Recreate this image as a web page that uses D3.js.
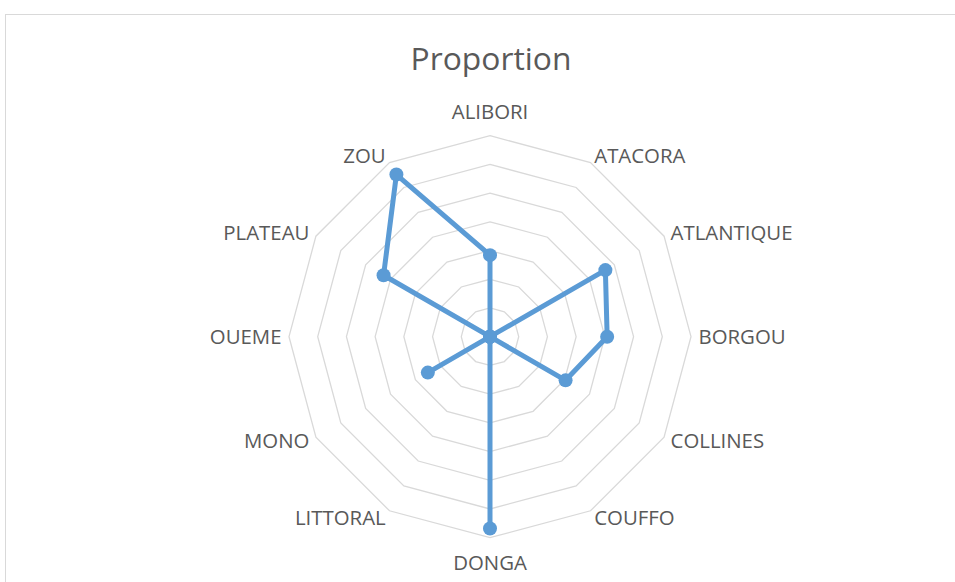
<!DOCTYPE html>
<html>
<head>
<meta charset="utf-8">
<script src="https://cdn.jsdelivr.net/npm/d3@7"></script>
<style>
    html, body { margin: 0; padding: 0; background: #fff; }
    svg { display: block; font-family: "Open Sans", sans-serif; }
</style>
</head>
<body>
<svg id="chart" width="955" height="582"></svg>
<script>
// Departments (clockwise from the top) and their proportions.
const categories = ['ALIBORI', 'ATACORA', 'ATLANTIQUE', 'BORGOU', 'COLLINES', 'COUFFO',
    'DONGA', 'LITTORAL', 'MONO', 'OUEME', 'PLATEAU', 'ZOU'];
const proportions = [0.142, 0, 0.232, 0.204, 0.152, 0, 0.334, 0, 0.125, 0, 0.214, 0.326];
// Gridline rings (the value axis has no visible labels).
const ringTicks = [0.05, 0.10, 0.15, 0.20, 0.25, 0.30, 0.35];
const chartTitle = 'Proportion';

const svg = d3.select('#chart');
const cx = 490, cy = 336.7, R = 201;

// Chart area border (runs off the right and bottom edges).
svg.append('rect')
    .attr('x', 5.5).attr('y', 14.5)
    .attr('width', 1000).attr('height', 1000)
    .attr('fill', 'none')
    .attr('stroke', '#d9d9d9')
    .attr('stroke-width', 1);

svg.append('text')
    .attr('x', 491).attr('y', 70)
    .attr('text-anchor', 'middle')
    .attr('font-size', 31.8)
    .attr('fill', '#595959')
    .text(chartTitle);

const r = d3.scaleLinear().domain([0, d3.max(ringTicks)]).range([0, R]);
const angle = d3.scalePoint().domain(categories).range([0, 2 * Math.PI - 2 * Math.PI / categories.length]);

const g = svg.append('g').attr('transform', `translate(${cx},${cy})`);

// Polygon gridlines.
const ringLine = d3.lineRadial()
    .angle(d => angle(d))
    .curve(d3.curveLinearClosed);
g.selectAll('path.ring')
    .data(ringTicks)
    .join('path')
    .attr('class', 'ring')
    .attr('d', t => ringLine.radius(() => r(t))(categories))
    .attr('fill', 'none')
    .attr('stroke', '#d9d9d9')
    .attr('stroke-width', 1.3);

// Category labels.
g.selectAll('text.cat')
    .data(categories)
    .join('text')
    .attr('class', 'cat')
    .each(function (c) {
        const a = angle(c);
        const s = Math.sin(a), co = Math.cos(a);
        const vertical = Math.abs(s) < 0.01;
        const d = vertical ? R + 24.5 : R + 7.5;
        d3.select(this)
            .attr('x', d * s)
            .attr('y', -d * co)
            .attr('text-anchor', vertical ? 'middle' : (s > 0 ? 'start' : 'end'));
    })
    .attr('dy', '0.36em')
    .attr('font-size', 20.4)
    .attr('fill', '#595959')
    .text(c => c);

// Series line and markers.
const pts = categories.map((c, i) => ({ c, v: proportions[i] }));
g.append('path')
    .datum(pts)
    .attr('d', d3.lineRadial()
        .angle(d => angle(d.c))
        .radius(d => r(d.v))
        .curve(d3.curveLinearClosed))
    .attr('fill', 'none')
    .attr('stroke', '#5b9bd5')
    .attr('stroke-width', 5)
    .attr('stroke-linejoin', 'round');

g.selectAll('circle.pt')
    .data(pts)
    .join('circle')
    .attr('class', 'pt')
    .attr('cx', d => r(d.v) * Math.sin(angle(d.c)))
    .attr('cy', d => -r(d.v) * Math.cos(angle(d.c)))
    .attr('r', 7)
    .attr('fill', '#5b9bd5');
</script>
</body>
</html>
